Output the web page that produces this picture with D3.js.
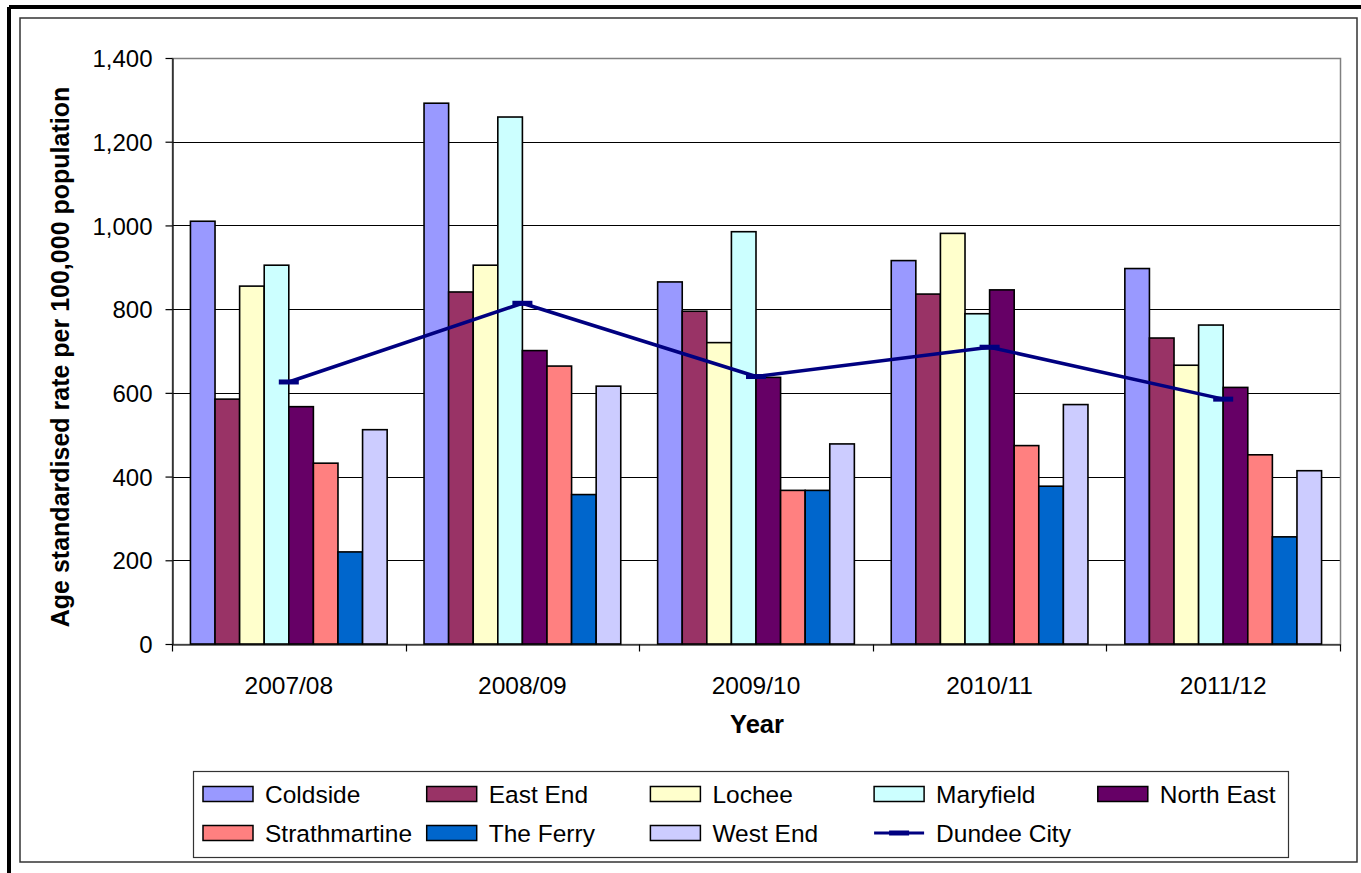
<!DOCTYPE html>
<html>
<head>
<meta charset="utf-8">
<script src="https://cdn.jsdelivr.net/npm/d3@7"></script>
<style>
  body { margin: 0; background: #fff; }
  svg text { font-family: "Liberation Sans", Arial, sans-serif; fill: #000; }
</style>
</head>
<body>
<div id="chart"></div>
<script>
// data
var years = ["2007/08", "2008/09", "2009/10", "2010/11", "2011/12"];
var areas = ["Coldside", "East End", "Lochee", "Maryfield", "North East",
             "Strathmartine", "The Ferry", "West End"];

var coldside      = [1010, 1292, 865, 916, 897];
var eastEnd       = [585, 841, 795, 836, 731];
var lochee        = [855, 905, 720, 981, 666];
var maryfield     = [905, 1259, 985, 789, 762];
var northEast     = [567, 701, 637, 846, 613];
var strathmartine = [432, 664, 367, 474, 452];
var theFerry      = [220, 357, 367, 377, 256];
var westEnd       = [512, 616, 478, 572, 414];
var dundeeCity    = [626, 814, 639, 709, 585];

var yTicks = [0, 200, 400, 600, 800, 1000, 1200, 1400];

var seriesValues = [coldside, eastEnd, lochee, maryfield, northEast,
                    strathmartine, theFerry, westEnd];
var colors = ["#9999FF", "#993366", "#FFFFCC", "#CCFFFF", "#660066",
              "#FF8080", "#0066CC", "#CCCCFF"];
var lineColor = "#000080";

var W = 1361, H = 873;
var margin = {top: 58, right: 21, bottom: 229, left: 172};
var plotW = W - margin.left - margin.right,
    plotH = H - margin.top - margin.bottom;

var svg = d3.select("#chart").append("svg")
    .attr("width", W)
    .attr("height", H);

// frames
svg.append("rect")
    .attr("x", 20).attr("y", 18)
    .attr("width", 1337).attr("height", 844)
    .attr("fill", "#fff")
    .attr("stroke", "#333")
    .attr("stroke-width", 1.5);
svg.append("line")
    .attr("x1", 9).attr("y1", 7).attr("x2", W).attr("y2", 7)
    .attr("stroke", "#000").attr("stroke-width", 4);
svg.append("line")
    .attr("x1", 9).attr("y1", 7).attr("x2", 9).attr("y2", H)
    .attr("stroke", "#000").attr("stroke-width", 4);

var xScale = d3.scaleBand()
    .domain(years)
    .range([margin.left, margin.left + plotW]);

var xInner = d3.scaleBand()
    .domain(areas)
    .range([0, xScale.bandwidth()])
    .paddingInner(0)
    .paddingOuter(0.75);

var yScale = d3.scaleLinear()
    .domain([0, 1400])
    .range([margin.top + plotH, margin.top]);

// gridlines
svg.selectAll("line.grid")
    .data(yTicks.filter(function(d) { return d > 0; }))
    .enter()
    .append("line")
    .attr("class", "grid")
    .attr("x1", margin.left)
    .attr("x2", margin.left + plotW)
    .attr("y1", function(d) { return Math.round(yScale(d)) + 0.5; })
    .attr("y2", function(d) { return Math.round(yScale(d)) + 0.5; })
    .attr("stroke", "#000")
    .attr("stroke-width", 1);

// plot area border
svg.append("rect")
    .attr("x", margin.left + 0.5)
    .attr("y", Math.round(yScale(1400)) + 0.5)
    .attr("width", plotW)
    .attr("height", Math.round(yScale(0)) - Math.round(yScale(1400)))
    .attr("fill", "none")
    .attr("stroke", "#808080")
    .attr("stroke-width", 1.5);

// bars
var groups = svg.selectAll("g.year")
    .data(years)
    .enter()
    .append("g")
    .attr("class", "year")
    .attr("transform", function(d) { return "translate(" + xScale(d) + ",0)"; });

groups.selectAll("rect")
    .data(function(d, i) {
      return areas.map(function(a, j) {
        return {area: a, value: seriesValues[j][i], color: colors[j]};
      });
    })
    .enter()
    .append("rect")
    .attr("x", function(d) { return xInner(d.area); })
    .attr("y", function(d) { return yScale(d.value); })
    .attr("width", xInner.bandwidth())
    .attr("height", function(d) { return yScale(0) - yScale(d.value); })
    .attr("fill", function(d) { return d.color; })
    .attr("stroke", "#000")
    .attr("stroke-width", 1.6);

// y axis
var yAxis = d3.axisLeft(yScale)
    .tickValues(yTicks)
    .tickFormat(d3.format(","))
    .tickSizeInner(7)
    .tickSizeOuter(0)
    .tickPadding(13);

var gy = svg.append("g")
    .attr("transform", "translate(" + (margin.left + 0.5) + ",0)")
    .call(yAxis);
gy.select(".domain").attr("stroke", "#000").attr("stroke-width", 1.2);
gy.selectAll(".tick line").attr("stroke", "#000").attr("stroke-width", 1.2);
gy.selectAll(".tick text")
    .attr("font-size", 24)
    .attr("font-family", "Liberation Sans, Arial, sans-serif")
    .attr("fill", "#000")
    .attr("dy", "0.36em");

// x axis
var xAxis = d3.axisBottom(xScale)
    .tickSize(0)
    .tickPadding(0);

var gx = svg.append("g")
    .attr("transform", "translate(0," + (yScale(0) + 0.5) + ")")
    .call(xAxis);
gx.select(".domain").attr("stroke", "#000").attr("stroke-width", 1.2);
gx.selectAll(".tick text")
    .attr("font-size", 24.5)
    .attr("font-family", "Liberation Sans, Arial, sans-serif")
    .attr("fill", "#000")
    .attr("y", 49)
    .attr("dy", 0);

// category boundary ticks
var bounds = years.map(function(d) { return xScale(d); })
    .concat([xScale(years[years.length - 1]) + xScale.bandwidth()]);
gx.selectAll("line.bound")
    .data(bounds)
    .enter()
    .append("line")
    .attr("class", "bound")
    .attr("x1", function(d) { return Math.round(d) + 0.5; })
    .attr("x2", function(d) { return Math.round(d) + 0.5; })
    .attr("y1", 0)
    .attr("y2", 7)
    .attr("stroke", "#000")
    .attr("stroke-width", 1.2);

// Dundee City line
var line = d3.line()
    .x(function(d, i) { return xScale(years[i]) + xScale.bandwidth() / 2; })
    .y(function(d) { return yScale(d); });

svg.append("path")
    .datum(dundeeCity)
    .attr("d", line)
    .attr("fill", "none")
    .attr("stroke", lineColor)
    .attr("stroke-width", 3.5)
    .attr("stroke-linejoin", "round");

svg.selectAll("rect.marker")
    .data(dundeeCity)
    .enter()
    .append("rect")
    .attr("class", "marker")
    .attr("x", function(d, i) { return xScale(years[i]) + xScale.bandwidth() / 2 - 10; })
    .attr("y", function(d) { return yScale(d) - 2.5; })
    .attr("width", 20)
    .attr("height", 5)
    .attr("fill", lineColor);

// axis titles
svg.append("text")
    .attr("transform", "translate(69,357) rotate(-90)")
    .attr("text-anchor", "middle")
    .attr("font-size", 25)
    .attr("font-weight", "bold")
    .text("Age standardised rate per 100,000 population");

svg.append("text")
    .attr("transform", "translate(757,733)")
    .attr("text-anchor", "middle")
    .attr("font-size", 25.5)
    .attr("font-weight", "bold")
    .text("Year");

// legend
var legendX0 = 203, legendStep = 223.7;
var legendRows = [794, 833];
var legendItems = areas.map(function(a, j) {
  return {name: a, color: colors[j], type: "bar"};
}).concat([{name: "Dundee City", color: lineColor, type: "line"}]);

svg.append("rect")
    .attr("x", 193.5).attr("y", 771.5)
    .attr("width", 1095).attr("height", 86)
    .attr("fill", "#fff")
    .attr("stroke", "#333")
    .attr("stroke-width", 1.2);

var items = svg.selectAll("g.legend")
    .data(legendItems)
    .enter()
    .append("g")
    .attr("class", "legend")
    .attr("transform", function(d, i) {
      return "translate(" + (legendX0 + (i % 5) * legendStep) + "," + legendRows[Math.floor(i / 5)] + ")";
    });

items.filter(function(d) { return d.type === "bar"; })
    .append("rect")
    .attr("x", 0).attr("y", -7.5)
    .attr("width", 50).attr("height", 15)
    .attr("fill", function(d) { return d.color; })
    .attr("stroke", "#000")
    .attr("stroke-width", 1.5);

var lineItems = items.filter(function(d) { return d.type === "line"; });
lineItems.append("line")
    .attr("x1", 0).attr("x2", 50)
    .attr("y1", 0).attr("y2", 0)
    .attr("stroke", function(d) { return d.color; })
    .attr("stroke-width", 3);
lineItems.append("rect")
    .attr("x", 15).attr("y", -2.5)
    .attr("width", 20).attr("height", 5)
    .attr("fill", function(d) { return d.color; });

items.append("text")
    .attr("x", 62)
    .attr("y", 8.5)
    .attr("font-size", 24.5)
    .text(function(d) { return d.name; });
</script>
</body>
</html>
